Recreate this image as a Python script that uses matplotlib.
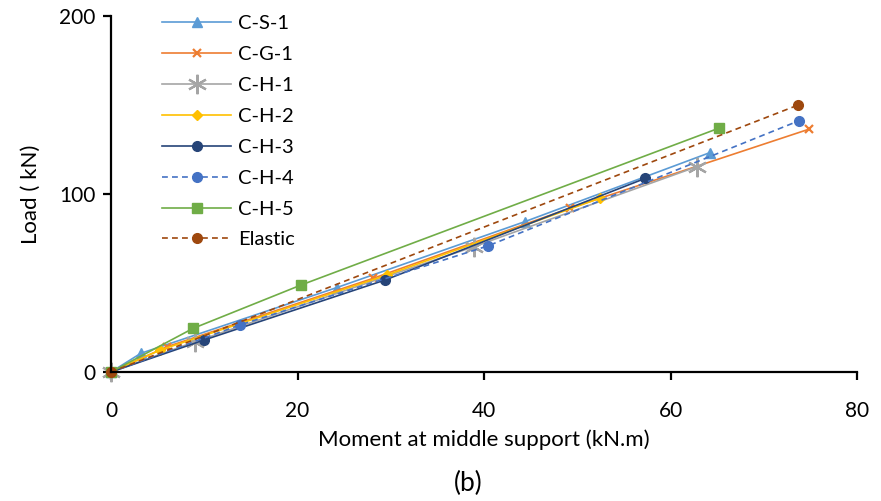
import matplotlib
matplotlib.use("Agg")
import matplotlib.pyplot as plt

plt.rcParams['font.family'] = ['Lato', 'DejaVu Sans']

# Moment at middle support (kN.m) vs. load (kN) for each specimen
labels = ["C-S-1", "C-G-1", "C-H-1", "C-H-2", "C-H-3", "C-H-4", "C-H-5", "Elastic"]

cs1_m = [0, 3.2, 24.2, 44.4, 64.2]
cs1_p = [0, 10.5, 47.4, 84.5, 123.2]

cg1_m = [0, 6.0, 28.1, 49.2, 74.9]
cg1_p = [0, 14.2, 52.6, 92.0, 136.5]

ch1_m = [0, 9.0, 38.9, 62.8]
ch1_p = [0, 17.0, 70.4, 115.3]

ch2_m = [0, 5.3, 29.6, 52.4]
ch2_p = [0, 12.4, 54.5, 97.6]

ch3_m = [0, 10.0, 29.4, 57.3]
ch3_p = [0, 18.0, 51.7, 108.8]

ch4_m = [0, 13.8, 40.4, 73.8]
ch4_p = [0, 26.4, 70.8, 141.2]

ch5_m = [0, 8.8, 20.4, 65.2]
ch5_p = [0, 24.5, 48.9, 137.0]

elastic_m = [0, 73.7]
elastic_p = [0, 150.0]

x_ticks = [0, 20, 40, 60, 80]
y_ticks = [0, 100, 200]

dash = (0, (3.5, 2.5))
series = [
    (cs1_m, cs1_p, dict(color="#5B9BD5", marker="^", ms=6.5, ls="-")),
    (cg1_m, cg1_p, dict(color="#ED7D31", marker="x", ms=5.5, mew=1.6, ls="-")),
    (ch1_m, ch1_p, dict(color="#A5A5A5", marker=(6, 2, 0), ms=14, mew=1.6, ls="-")),
    (ch2_m, ch2_p, dict(color="#FFC000", marker="D", ms=5, ls="-")),
    (ch3_m, ch3_p, dict(color="#264478", marker="o", ms=7, ls="-")),
    (ch4_m, ch4_p, dict(color="#4472C4", marker="o", ms=7, ls=dash)),
    (ch5_m, ch5_p, dict(color="#70AD47", marker="s", ms=7, ls="-")),
    (elastic_m, elastic_p, dict(color="#9E480E", marker="o", ms=7, ls=dash)),
]

fig = plt.figure(figsize=(8.81, 5.01), dpi=100)
ax = fig.add_axes([111 / 881, 1 - 372 / 501, (857 - 111) / 881, (372 - 16) / 501])

for (m, p, st), lab in zip(series, labels):
    ax.plot(m, p, lw=1.2, label=lab, clip_on=False, **st)

ax.set_xlim(0, 80)
ax.set_ylim(0, 200)
ax.set_xticks(x_ticks)
ax.set_yticks(y_ticks)

for s in ("top", "right"):
    ax.spines[s].set_visible(False)
for s in ("left", "bottom"):
    ax.spines[s].set_linewidth(1.6)
    ax.spines[s].set_color("black")
ax.tick_params(direction="out", length=6, width=1.6, labelsize=15, colors="black", pad=5)
ax.tick_params(axis="x", pad=15)

ax.set_xlabel("Moment at middle support (kN.m)", fontsize=16, labelpad=6)
ax.set_ylabel("Load ( kN)", fontsize=16, labelpad=13)

ax.legend(loc="upper left", bbox_to_anchor=(0.058, 1.025), frameon=False,
          fontsize=14.5, handlelength=3.4, labelspacing=0.685, handletextpad=0.35,
          borderaxespad=0)

fig.text(0.531, 0.035, "(b)", fontsize=19, ha="center", va="center")

fig.savefig("out.png", dpi=100)
